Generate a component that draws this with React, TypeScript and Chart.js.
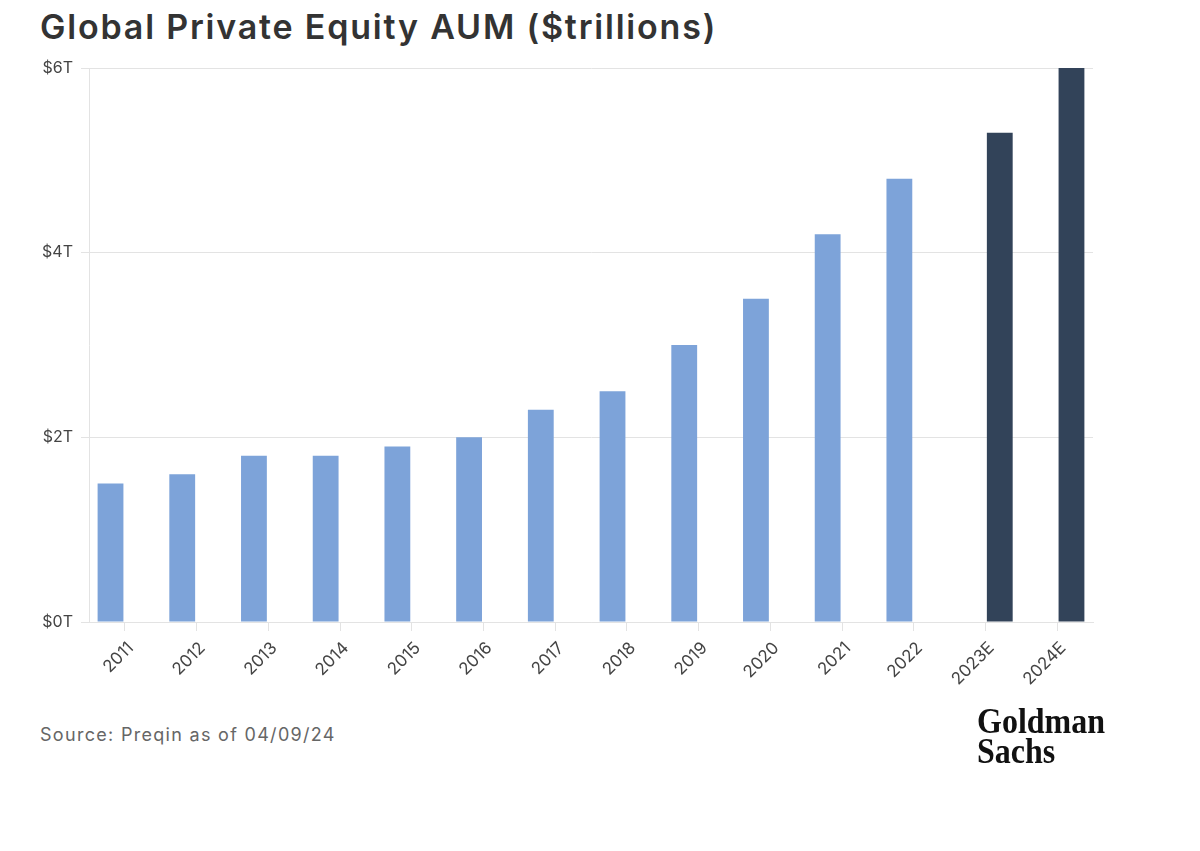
import React, { useEffect, useRef } from "react";
import { Chart, registerables } from "chart.js";

Chart.register(...registerables);

const categories = ["2011", "2012", "2013", "2014", "2015", "2016", "2017", "2018", "2019", "2020", "2021", "2022", "2023E", "2024E"];
const actualValues = [1.5, 1.6, 1.8, 1.8, 1.9, 2.0, 2.3, 2.5, 3.0, 3.5, 4.2, 4.8, null, null];
const estimateValues = [null, null, null, null, null, null, null, null, null, null, null, null, 5.3, 6.0];
const yTicks = [0, 2, 4, 6];

const FONT = "Inter, 'Noto Sans', sans-serif";

export default function App() {
  const ref = useRef<HTMLCanvasElement | null>(null);

  useEffect(() => {
    if (!ref.current) return;
    const chart = new Chart(ref.current, {
      type: "bar",
      data: {
        labels: categories,
        datasets: [
          { label: "Actual", data: actualValues as any, backgroundColor: "#7DA3D9" },
          { label: "Estimate", data: estimateValues as any, backgroundColor: "#324359" },
        ],
      },
      options: {
        animation: false,
        responsive: false,
        maintainAspectRatio: false,
        layout: { padding: { top: 68, right: 107, bottom: 0, left: 0 } },
        plugins: { legend: { display: false }, tooltip: { enabled: false }, title: { display: false } },
        scales: {
          x: {
            grid: { display: true, drawOnChartArea: false, drawTicks: true, offset: false, tickLength: 9, color: "#e3e3e3" },
            border: { display: true, color: "#e3e3e3" },
            ticks: { maxRotation: 45, minRotation: 45, autoSkip: false, color: "#444", font: { family: FONT, size: 17 }, padding: 7, labelOffset: 6 },
            afterFit: (axis: any) => { axis.height = 78; },
          },
          y: {
            min: 0,
            max: 6,
            afterBuildTicks: (axis: any) => { axis.ticks = yTicks.map((v) => ({ value: v })); },
            grid: { color: "#e3e3e3", tickLength: 8, drawTicks: true },
            border: { display: true, color: "#e3e3e3" },
            ticks: { color: "#444", font: { family: FONT, size: 16 }, padding: 8, callback: (v: any) => `$${v}T` },
            afterFit: (axis: any) => { axis.width = 89; },
          },
        },
      },
    });
    return () => chart.destroy();
  }, []);

  return (
    <div style={{ position: "absolute", left: 0, top: 0, width: 1200, height: 851, background: "#fff" }}>
      <div style={{ position: "absolute", left: 40, top: 6, fontFamily: FONT, fontWeight: 600, fontSize: 34, color: "#333", whiteSpace: "nowrap", letterSpacing: 1.8 }}>
        Global Private Equity AUM ($trillions)
      </div>
      <canvas ref={ref} width={1200} height={700} style={{ position: "absolute", left: 0, top: 0, width: 1200, height: 700 }} />
      <div style={{ position: "absolute", left: 40, top: 724, fontFamily: FONT, fontSize: 18, color: "#666", whiteSpace: "nowrap", letterSpacing: 1.3 }}>
        Source: Preqin as of 04/09/24
      </div>
      <div style={{ position: "absolute", left: 977, top: 705, fontFamily: "'Liberation Serif', 'DejaVu Serif', serif", fontWeight: 700, fontSize: 32, lineHeight: "26px", color: "#111", whiteSpace: "nowrap", transform: "scaleY(1.15)", transformOrigin: "top left" }}>
        Goldman<br />Sachs
      </div>
    </div>
  );
}
